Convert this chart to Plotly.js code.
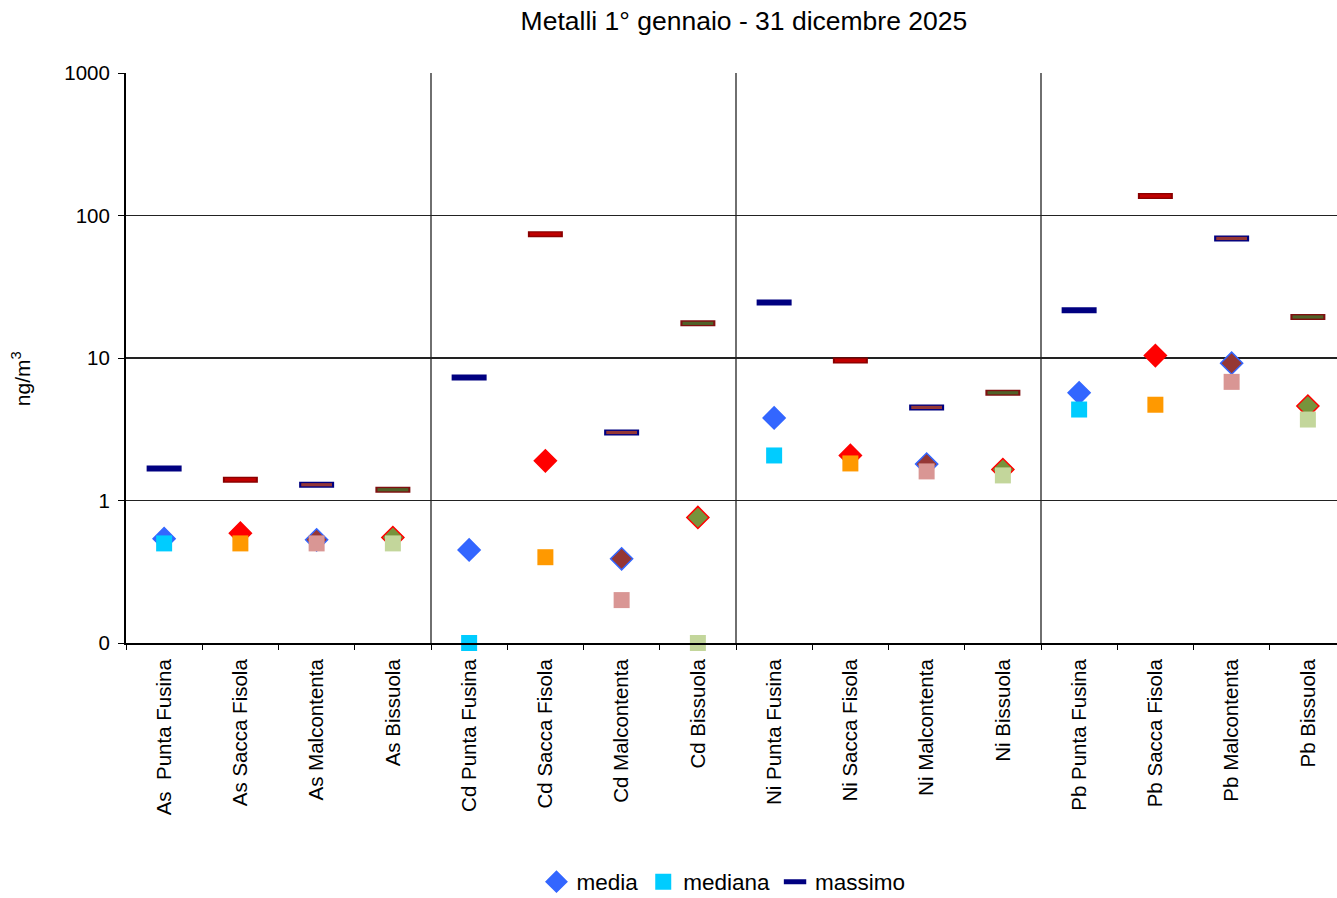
<!DOCTYPE html>
<html>
<head>
<meta charset="utf-8">
<script src="https://cdn.plot.ly/plotly-3.0.1.min.js"></script>
<style>
  html, body { margin: 0; padding: 0; background: #fff; overflow: hidden; }
  #chart { width: 1346px; height: 898px; }
</style>
</head>
<body>
<div id="chart"></div>
<script>
// Metals and monitoring stations
const metals = ['As', 'Cd', 'Ni', 'Pb'];
const stations = ['Punta Fusina', 'Sacca Fisola', 'Malcontenta', 'Bissuola'];
const categories = [
  'As  Punta Fusina', 'As Sacca Fisola', 'As Malcontenta', 'As Bissuola',
  'Cd Punta Fusina', 'Cd Sacca Fisola', 'Cd Malcontenta', 'Cd Bissuola',
  'Ni Punta Fusina', 'Ni Sacca Fisola', 'Ni Malcontenta', 'Ni Bissuola',
  'Pb Punta Fusina', 'Pb Sacca Fisola', 'Pb Malcontenta', 'Pb Bissuola'
];

// Concentrations, ng/m3
const media = [
  0.54, 0.59, 0.53, 0.55,
  0.45, 1.9, 0.39, 0.76,
  3.8, 2.07, 1.8, 1.65,
  5.7, 10.4, 9.2, 4.6
];
const mediana = [
  0.5, 0.5, 0.5, 0.5,
  0.1, 0.4, 0.2, 0.1,
  2.07, 1.82, 1.6, 1.5,
  4.35, 4.7, 6.8, 3.7
];
const massimo = [
  1.68, 1.4, 1.29, 1.19,
  7.3, 74, 3.0, 17.5,
  24.5, 9.6, 4.5, 5.7,
  21.6, 137, 69, 19.4
];

// Y axis ticks (the 0.1 decade is labelled "0")
const yTickVals = [0.1, 1, 10, 100, 1000];
const yTickText = ['0', '1', '10', '100', '1000'];

// Colour scheme per station, repeated for each metal
const stationStyle = {
  'Punta Fusina': { mediaFill: '#3366FF', mediaLine: '#3366FF', medianaFill: '#00CCFF', maxFill: '#000080', maxLine: '#000080' },
  'Sacca Fisola': { mediaFill: '#FF0000', mediaLine: '#FF0000', medianaFill: '#FF9900', maxFill: '#C00000', maxLine: '#8B0000' },
  'Malcontenta':  { mediaFill: '#953735', mediaLine: '#3366FF', medianaFill: '#D99694', maxFill: '#953735', maxLine: '#000080' },
  'Bissuola':     { mediaFill: '#77933C', mediaLine: '#FF0000', medianaFill: '#C3D69B', maxFill: '#4F6228', maxLine: '#7F1010' }
};
const perPoint = key => metals.flatMap(() => stations.map(s => stationStyle[s][key]));

const font = 'Liberation Sans, Arial, sans-serif';

const traces = [
  {
    name: 'media', type: 'scatter', mode: 'markers',
    x: categories, y: media, cliponaxis: false,
    marker: { symbol: 'diamond', size: 17, color: perPoint('mediaFill'),
              line: { color: perPoint('mediaLine'), width: 1.5 } }
  },
  {
    name: 'mediana', type: 'scatter', mode: 'markers',
    x: categories, y: mediana, cliponaxis: false,
    marker: { symbol: 'square', size: 16, color: perPoint('medianaFill'),
              line: { width: 0 } }
  },
  {
    name: 'massimo', type: 'scatter', mode: 'markers',
    x: categories, y: massimo, cliponaxis: false,
    marker: { symbol: 'line-ew', size: 25, line: { color: perPoint('maxLine'), width: 6 } }
  },
  {
    name: 'massimo', type: 'scatter', mode: 'markers', showlegend: false,
    x: categories, y: massimo, cliponaxis: false, hoverinfo: 'skip',
    marker: { symbol: 'line-ew', size: 22, line: { color: perPoint('maxFill'), width: 3.2 } }
  }
];

// Vertical separators between metal groups
const groupSize = stations.length;
const separators = metals.slice(1).map((m, i) => ({
  type: 'line', xref: 'x', yref: 'paper',
  x0: (i + 1) * groupSize - 0.5, x1: (i + 1) * groupSize - 0.5, y0: 0, y1: 1,
  line: { color: '#222', width: 1.3 }
}));

const layout = {
  width: 1346, height: 898,
  margin: { l: 126, r: 0, t: 73, b: 255 },
  paper_bgcolor: '#fff', plot_bgcolor: '#fff',
  font: { family: font, color: '#000', size: 19 },
  title: { text: 'Metalli 1° gennaio - 31 dicembre 2025', font: { family: font, size: 26.5, color: '#000' },
           x: 0.5527, xref: 'container', xanchor: 'center', y: 0.977, yanchor: 'middle' },
  showlegend: true,
  legend: { orientation: 'h', x: 0.5375, xref: 'container', xanchor: 'center',
            y: 0.0178, yref: 'container', yanchor: 'middle',
            font: { family: font, size: 22.5, color: '#000' }, itemsizing: 'trace',
            tracegroupgap: 0, itemwidth: 20 },
  xaxis: {
    type: 'category', range: [-0.5, 15.5], fixedrange: true,
    showgrid: false, zeroline: false,
    showline: true, linecolor: '#000', linewidth: 2,
    ticks: 'outside', tickson: 'boundaries', ticklen: 5, tickcolor: '#000', tickwidth: 1,
    tickangle: -90, ticklabelstandoff: 6, automargin: false,
    tickfont: { family: font, size: 20.5, color: '#000' }
  },
  yaxis: {
    type: 'log', range: [-1, 3], fixedrange: true,
    tickvals: yTickVals, ticktext: yTickText,
    showgrid: true, gridcolor: '#222', gridwidth: 1.3,
    showline: true, linecolor: '#000', linewidth: 2,
    ticks: 'outside', ticklen: 6, tickcolor: '#000', tickwidth: 1,
    ticklabelstandoff: 4, automargin: false,
    tickfont: { family: font, size: 20.5, color: '#000' }
  },
  annotations: [{
    text: 'ng/m<sup>3</sup>', textangle: -90, showarrow: false,
    xref: 'paper', yref: 'paper', x: -0.086, xanchor: 'center', y: 0.463, yanchor: 'middle',
    font: { family: font, size: 21, color: '#000' }
  }],
  shapes: separators
};

Plotly.newPlot('chart', traces, layout, { staticPlot: true, displayModeBar: false });
</script>
</body>
</html>
